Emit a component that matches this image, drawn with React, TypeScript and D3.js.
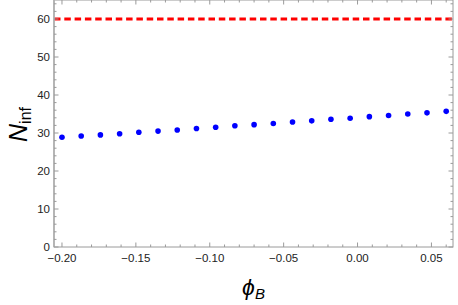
import React from 'react';
import { scaleLinear, format, range } from 'd3';

// phi_B values and N_inf
const phiB = [
	-0.2, -0.187, -0.174, -0.161, -0.148, -0.135, -0.122, -0.109, -0.096, -0.083, -0.07,
	-0.057, -0.044, -0.031, -0.018, -0.005, 0.008, 0.021, 0.034, 0.047, 0.06,
];
const nInf = [
	28.9, 29.2, 29.5, 29.8, 30.2, 30.5, 30.8, 31.2, 31.5, 31.9, 32.2, 32.5, 32.9, 33.2, 33.6,
	33.9, 34.3, 34.6, 35.0, 35.3, 35.7,
];
const refLine = 60;

const xMajor = [-0.2, -0.15, -0.1, -0.05, 0, 0.05];
const yMajor = [0, 10, 20, 30, 40, 50, 60];

const W = 458;
const H = 305;
const left = 54;
const right = 453;
const top = 0;
const bottom = 247;

const frameColor = '#9a9a9a';
const labelFont = '"Liberation Sans", Arial, sans-serif';

export default function App() {
	const x = scaleLinear().domain([-0.2054, 0.0646]).range([left, right]);
	const y = scaleLinear().domain([0, 65]).range([bottom, top]);

	const xMinor = range(-0.2, 0.0601, 0.01).filter(
		(v) => !xMajor.some((m) => Math.abs(m - v) < 1e-6)
	);
	const yMinor = range(0, 65, 2).filter((v) => v % 10 !== 0);

	const fx = format('.2f');

	return (
		<svg
			width={W}
			height={H}
			style={{ position: 'absolute', left: 0, top: 0, background: '#fff' }}>
			{/* reference line */}
			<line
				x1={left}
				x2={right}
				y1={y(refLine)}
				y2={y(refLine)}
				stroke="#ff0000"
				strokeWidth={3}
				strokeDasharray="6.5 3.8"
			/>

			{/* points */}
			{phiB.map((p, i) => (
				<circle key={i} cx={x(p)} cy={y(nInf[i])} r={2.8} fill="#0000ff" />
			))}

			{/* frame */}
			<rect
				x={left}
				y={top}
				width={right - left}
				height={bottom - top}
				fill="none"
				stroke={frameColor}
				strokeWidth={1}
			/>
			<line x1={left} x2={left} y1={top} y2={bottom} stroke="#b0b0b0" strokeWidth={1.6} />

			{/* x ticks (bottom + top) */}
			{xMajor.map((v) => (
				<g key={'xm' + v}>
					<line x1={x(v)} x2={x(v)} y1={bottom} y2={bottom - 4.5} stroke={frameColor} />
					<line x1={x(v)} x2={x(v)} y1={top} y2={top + 4.5} stroke={frameColor} />
					<text
						x={x(v)}
						y={262}
						textAnchor="middle"
						fontFamily={labelFont}
						fontSize={11.5}
						fill="#222">
						{fx(v)}
					</text>
				</g>
			))}
			{xMinor.map((v) => (
				<g key={'xn' + v}>
					<line x1={x(v)} x2={x(v)} y1={bottom} y2={bottom - 2.5} stroke={frameColor} />
					<line x1={x(v)} x2={x(v)} y1={top} y2={top + 2.5} stroke={frameColor} />
				</g>
			))}

			{/* y ticks (left + right) */}
			{yMajor.map((v) => (
				<g key={'ym' + v}>
					<line x1={left} x2={left + 4.5} y1={y(v)} y2={y(v)} stroke={frameColor} />
					<line x1={right} x2={right - 4.5} y1={y(v)} y2={y(v)} stroke={frameColor} />
					<text
						x={50}
						y={y(v)}
						dy="0.35em"
						textAnchor="end"
						fontFamily={labelFont}
						fontSize={11.5}
						fill="#222">
						{v}
					</text>
				</g>
			))}
			{yMinor.map((v) => (
				<g key={'yn' + v}>
					<line x1={left} x2={left + 2.5} y1={y(v)} y2={y(v)} stroke={frameColor} />
					<line x1={right} x2={right - 2.5} y1={y(v)} y2={y(v)} stroke={frameColor} />
				</g>
			))}

			{/* axis labels */}
			<text
				transform={`translate(27, ${(top + bottom) / 2 + 1}) rotate(-90)`}
				textAnchor="middle"
				fontFamily={labelFont}
				fill="#000">
				<tspan fontSize={25} fontStyle="italic">
					N
				</tspan>
				<tspan fontSize={16} dy={4}>
					inf
				</tspan>
			</text>
			<text
				x={(left + right) / 2}
				y={295}
				textAnchor="middle"
				fontFamily={labelFont}
				fill="#000">
				<tspan fontSize={23} fontStyle="italic">
					ϕ
				</tspan>
				<tspan fontSize={15} fontStyle="italic" dy={4}>
					B
				</tspan>
			</text>
		</svg>
	);
}
